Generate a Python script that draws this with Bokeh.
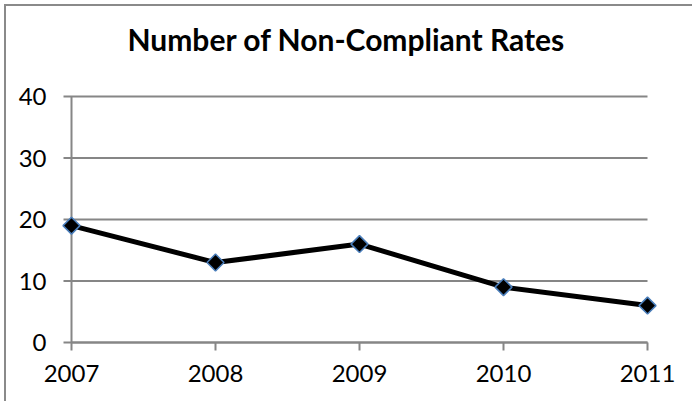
from bokeh.plotting import figure
from bokeh.embed import file_html
from bokeh.resources import INLINE
from bokeh.models import Range1d, ColumnDataSource
from bokeh.core.properties import value
import math

years = [2007, 2008, 2009, 2010, 2011]
values = [19, 13, 16, 9, 6]
x_tick_labels = ["2007", "2008", "2009", "2010", "2011"]
y_ticks = [0, 10, 20, 30, 40]
y_tick_labels = ["0", "10", "20", "30", "40"]
title_text = "Number of Non-Compliant Rates"

FONT = "Lato"
GRID = "#868686"

# layout in pixels (canvas coordinates)
W, H = 688, 397
AX_LEFT, AX_RIGHT = 65, 641       # pixel x of first / last year
AX_TOP, AX_BOTTOM = 90, 336       # pixel y of 40 / 0
PAD_L, PAD_R, PAD_T, PAD_B = 59, 33, 32, 50   # frame padding (room for markers and labels)
TICK = 8

px_x = (AX_RIGHT - AX_LEFT) / (years[-1] - years[0])
px_y = (AX_BOTTOM - AX_TOP) / (y_ticks[-1] - y_ticks[0])

p = figure(width=W, height=H, output_backend="svg", toolbar_location=None,
           x_range=Range1d(years[0] - PAD_L / px_x, years[-1] + PAD_R / px_x),
           y_range=Range1d(y_ticks[0] - PAD_B / px_y, y_ticks[-1] + PAD_T / px_y),
           min_border_left=AX_LEFT - PAD_L, min_border_right=W - (AX_RIGHT + PAD_R),
           min_border_top=AX_TOP - PAD_T, min_border_bottom=H - (AX_BOTTOM + PAD_B),
           margin=(4, -12, 0, 4),
           styles={"border-left": "2px solid #8a8a8a", "border-top": "2px solid #8a8a8a"})
p.title.text = title_text
p.title.align = "center"
p.title.text_font = FONT
p.title.text_font_size = "30px"
p.title.text_font_style = "bold"
p.title.text_color = "black"
p.title.offset = 0
p.title.standoff = 15

p.outline_line_color = None
p.background_fill_color = "white"
p.border_fill_color = "white"
p.xgrid.grid_line_color = None
p.ygrid.grid_line_color = None
p.xaxis.visible = False
p.yaxis.visible = False

n = len(y_ticks)
m = len(years)
# horizontal gridlines (and y ticks) from the tick end to the last category
p.segment(x0=[years[0] - TICK / px_x] * n, x1=[years[-1]] * n, y0=y_ticks, y1=y_ticks,
          line_color=GRID, line_width=2)
# y axis line at the first category
p.segment(x0=[years[0]], x1=[years[0]], y0=[y_ticks[0]], y1=[y_ticks[-1]],
          line_color=GRID, line_width=2)
# x axis line and ticks
p.segment(x0=[years[0]], x1=[years[-1]], y0=[y_ticks[0]], y1=[y_ticks[0]],
          line_color=GRID, line_width=2)
p.segment(x0=years, x1=years, y0=[y_ticks[0]] * m, y1=[y_ticks[0] - TICK / px_y] * m,
          line_color=GRID, line_width=2)
# tick labels
p.text(x=[years[0]] * n, y=y_ticks, text=y_tick_labels, x_offset=-25,
       text_align="right", text_baseline="middle", text_font=value(FONT),
       text_font_size="24px", text_color="black")
p.text(x=years, y=[y_ticks[0]] * m, text=x_tick_labels, y_offset=31,
       text_align="center", text_baseline="middle", text_font=value(FONT),
       text_font_size="24px", text_color="black")

src = ColumnDataSource(dict(x=years, y=values))
p.line("x", "y", source=src, line_color="black", line_width=5)
p.scatter("x", "y", source=src, marker="square", angle=math.pi / 4, size=12,
          fill_color="black", line_color="#4a7ebb", line_width=1.5)

open("out.html", "w").write(file_html(p, INLINE))
